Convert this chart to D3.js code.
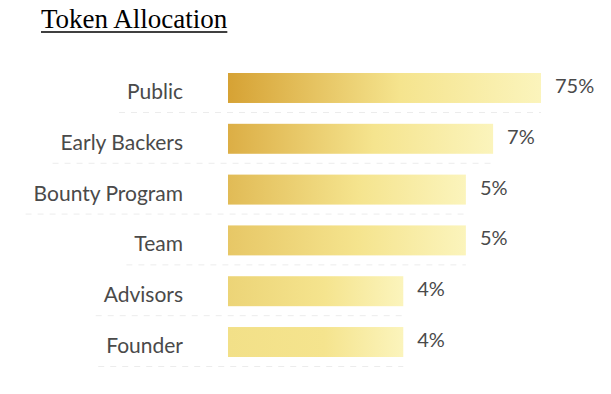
<!DOCTYPE html>
<html>
<head>
<meta charset="utf-8">
<script src="https://cdn.jsdelivr.net/npm/d3@7"></script>
<style>
  body { margin: 0; background: #fff; }
  svg { display: block; }
</style>
</head>
<body>
<svg id="chart" width="611" height="394"></svg>
<script>
// data
const categories = ['Public', 'Early Backers', 'Bounty Program', 'Team', 'Advisors', 'Founder'];
const shares = [75, 7, 5, 5, 4, 4];
// bars in the original are not drawn to scale: relative length of each bar (longest = 100)
const barLength = [100, 84.7, 76, 76, 56, 56];

const width = 611, height = 394;
const margin = {top: 73, left: 228, right: 70, bottom: 37};
const title = 'Token Allocation';

const svg = d3.select('#chart');

// title, serif and underlined
const t = svg.append('text')
  .attr('x', 41).attr('y', 28)
  .attr('font-family', '"Liberation Serif", "Times New Roman", serif')
  .attr('font-size', 27)
  .attr('fill', '#000')
  .text(title);
const tw = t.node().getComputedTextLength();
svg.append('line')
  .attr('x1', 41).attr('x2', 41 + tw)
  .attr('y1', 32).attr('y2', 32)
  .attr('stroke', '#000').attr('stroke-width', 1.6);

const x = d3.scaleLinear().domain([0, 100]).range([margin.left, 541]);
const y = d3.scaleBand().domain(categories)
  .range([margin.top, height - margin.bottom])
  .paddingInner(0.41).paddingOuter(0);

// each bar gets its own gradient: darker gold on the longer bars
const leftShade = d3.scaleLinear().domain([0, categories.length - 1])
  .range(['#d6a234', '#f2e088']).interpolate(d3.interpolateRgb);

const defs = svg.append('defs');
categories.forEach((c, i) => {
  const g = defs.append('linearGradient').attr('id', 'grad' + i)
    .attr('x1', '0%').attr('x2', '100%').attr('y1', '0%').attr('y2', '0%');
  g.append('stop').attr('offset', '0%').attr('stop-color', leftShade(i));
  g.append('stop').attr('offset', '55%').attr('stop-color', '#f5e48e');
  g.append('stop').attr('offset', '100%').attr('stop-color', '#fbf4bc');
});

const labelFont = '"Lato", "Open Sans", sans-serif';
const rows = svg.append('g').selectAll('g').data(categories).join('g');

rows.append('rect')
  .attr('x', x(0))
  .attr('y', d => y(d))
  .attr('height', y.bandwidth())
  .attr('width', (d, i) => x(barLength[i]) - x(0))
  .attr('fill', (d, i) => `url(#grad${i})`);

const names = rows.append('text')
  .attr('x', 183)
  .attr('y', d => y(d) + y.bandwidth() / 2 + 11)
  .attr('text-anchor', 'end')
  .attr('font-family', labelFont)
  .attr('font-size', 21)
  .attr('fill', '#4a4a4a')
  .text(d => d);

rows.append('text')
  .attr('x', (d, i) => x(barLength[i]) + 14)
  .attr('y', d => y(d) + y.bandwidth() / 2 + 5)
  .attr('font-family', labelFont)
  .attr('font-size', 20)
  .attr('fill', '#4a4a4a')
  .text((d, i) => shares[i] + '%');

// faint dashed separator under each row
names.each(function(d, i) {
  const w = this.getComputedTextLength();
  const ly = y(d) + y.bandwidth() + 9.5;
  svg.append('line')
    .attr('x1', 183 - w - 8)
    .attr('x2', x(barLength[i]))
    .attr('y1', ly).attr('y2', ly)
    .attr('stroke', '#ececec')
    .attr('stroke-width', 1)
    .attr('stroke-dasharray', '6,6');
});
</script>
</body>
</html>
